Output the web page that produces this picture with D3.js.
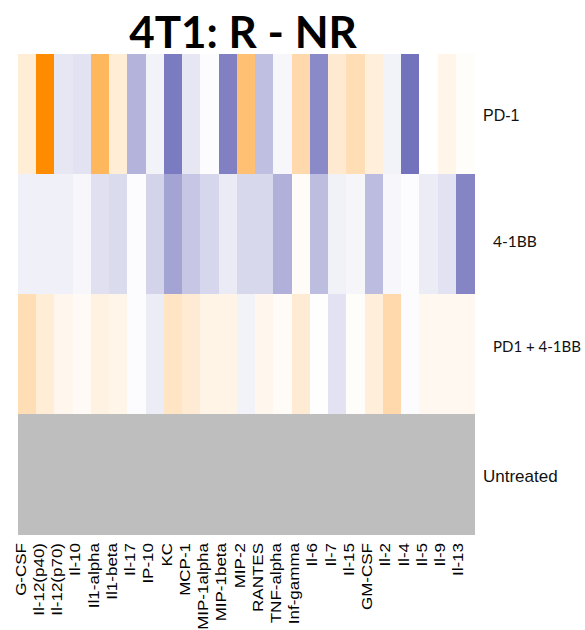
<!DOCTYPE html>
<html>
<head>
<meta charset="utf-8">
<script src="https://cdn.jsdelivr.net/npm/d3@7"></script>
<style>
  html, body { margin: 0; padding: 0; background: #fff; }
  svg { display: block; }
</style>
</head>
<body>
<svg id="chart" width="585" height="630"></svg>
<script>
const cytokines = ["G-CSF","Il-12(p40)","Il-12(p70)","Il-10","Il1-alpha","Il1-beta","Il-17","IP-10","KC","MCP-1","MIP-1alpha","MIP-1beta","MIP-2","RANTES","TNF-alpha","Inf-gamma","Il-6","Il-7","Il-15","GM-CSF","Il-2","Il-4","Il-5","Il-9","Il-13"];
const treatments = ["PD-1","4-1BB","PD1 + 4-1BB","Untreated"];

const pd1Values      = [0.16, 1.00, -0.17, -0.20, 0.63, 0.16, -0.53, -0.09, -0.92, -0.17, -0.02, -0.89, 0.55, -0.45, -0.06, 0.33, -0.82, 0.18, 0.29, 0.14, -0.09, -0.98, 0.00, 0.09, 0.02];
const bb41Values     = [-0.105, -0.105, -0.105, -0.06, -0.22, -0.25, -0.02, -0.31, -0.64, -0.39, -0.29, -0.14, -0.27, -0.27, -0.55, 0.03, -0.46, -0.10, -0.07, -0.47, -0.06, -0.02, -0.13, -0.20, -0.85];
const comboValues    = [0.29, 0.16, 0.07, 0.04, 0.11, 0.09, -0.02, -0.13, 0.23, 0.17, 0.10, 0.10, -0.09, 0.07, 0.035, 0.17, -0.01, -0.20, 0.02, 0.145, 0.33, -0.02, 0.06, 0.06, 0.06];
const untreatedValues = cytokines.map(() => null);

const seriesValues = [pd1Values, bb41Values, comboValues, untreatedValues];

const cells = [];
treatments.forEach((t, i) => {
  cytokines.forEach((c, j) => cells.push({ row: t, col: c, value: seriesValues[i][j] }));
});

const svg = d3.select("#chart");

const x = d3.scaleBand().domain(cytokines).range([18, 474]).padding(0);
const y = d3.scaleBand().domain(treatments).range([54, 534]).padding(0);

const color = d3.scaleLinear()
  .domain([-1, 0, 1])
  .range(["#7070BC", "#FFFFFF", "#FF8C00"])
  .interpolate(d3.interpolateRgb)
  .clamp(true);

svg.append("g")
  .selectAll("rect")
  .data(cells)
  .join("rect")
  .attr("x", d => x(d.col))
  .attr("y", d => y(d.row))
  .attr("width", x.bandwidth() + 0.5)
  .attr("height", y.bandwidth() + 0.5)
  .attr("fill", d => d.value === null ? "#BEBEBE" : color(d.value))
  .attr("shape-rendering", "crispEdges");

// column labels
const xAxis = d3.axisBottom(x).tickSize(0).tickPadding(0);
const gx = svg.append("g").attr("transform", "translate(0,543)").call(xAxis);
gx.select(".domain").remove();
gx.selectAll(".tick").attr("transform", d => `translate(${x(d) + x.bandwidth() / 2 - 1.5},0)`);
gx.selectAll(".tick text")
  .attr("transform", "rotate(-90) scale(1,0.87)")
  .attr("x", 0)
  .attr("y", 0)
  .attr("dx", 0)
  .attr("dy", 0)
  .attr("text-anchor", "end")
  .style("font-family", "'Liberation Sans', Arial, sans-serif")
  .style("font-size", "17px")
  .attr("fill", "#000");

// row labels
const rowLabelStyle = {
  "PD-1": { dx: 483, base: 120.7, font: "'Liberation Sans', Arial, sans-serif", size: 16 },
  "4-1BB": { dx: 493, base: 246.7, font: "Lato, 'Open Sans', sans-serif", size: 15.5 },
  "PD1 + 4-1BB": { dx: 493, base: 351.7, font: "Lato, 'Open Sans', sans-serif", size: 15 },
  "Untreated": { dx: 483, base: 481.5, font: "'Liberation Sans', Arial, sans-serif", size: 17 }
};
svg.append("g")
  .selectAll("text")
  .data(treatments)
  .join("text")
  .attr("x", d => rowLabelStyle[d].dx)
  .attr("y", d => rowLabelStyle[d].base)
  .style("font-family", d => rowLabelStyle[d].font)
  .style("font-size", d => rowLabelStyle[d].size + "px")
  .attr("fill", "#111")
  .text(d => d);

// title
svg.append("text")
  .attr("x", 243)
  .attr("y", 48)
  .attr("text-anchor", "middle")
  .style("font-family", "Lato, 'Open Sans', sans-serif")
  .style("font-weight", "bold")
  .style("font-size", "44px")
  .attr("fill", "#000")
  .text("4T1: R - NR");
</script>
</body>
</html>
